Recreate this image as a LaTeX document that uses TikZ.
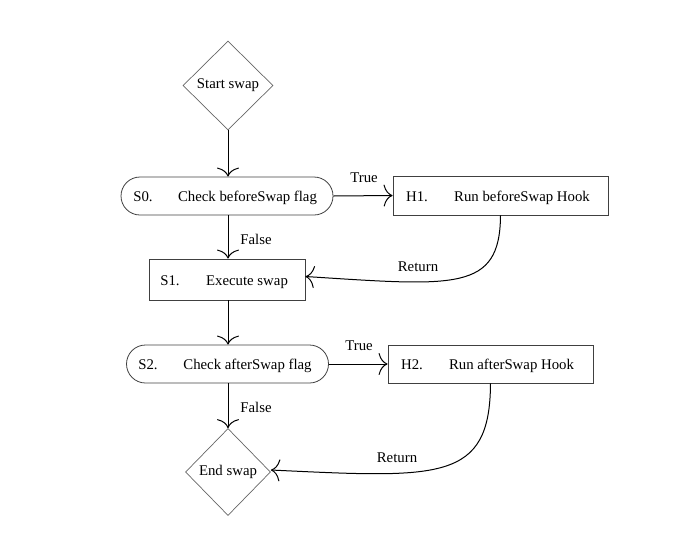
\documentclass[tikz,border=0pt]{standalone}
\usepackage{fontspec}
\setmainfont{Liberation Serif}
\usetikzlibrary{arrows.meta,shapes.geometric}
\begin{document}
\begin{tikzpicture}[x=1pt,y=-1pt,
  every node/.style={font=\fontsize{14.8}{16}\selectfont},
  box/.style={draw=black!75,line width=0.8pt,inner sep=0pt},
  stadium/.style={box,rounded corners=19pt},
  dia/.style={draw=black!60,line width=0.7pt,diamond,aspect=1,inner sep=0pt},
  txt/.style={inner sep=0pt,anchor=base},
  conn/.style={line width=1pt,-{To[length=9pt,width=22pt]}},
  lbl/.style={inner sep=0pt}]
\useasboundingbox (0,0) rectangle (700,544);
% shapes
\node[dia,minimum width=90pt,minimum height=89pt] (start) at (228,85.5) {};
\node (startt) at (228,85.5) {Start swap};
\node[stadium,minimum width=212pt,minimum height=38pt] (s0) at (227,196) {};
\node[txt] (s0n) at (143,201) {S0.};
\node[txt] (s0t) at (247.5,201) {Check beforeSwap flag};
\node[box,minimum width=215pt,minimum height=39pt] (h1) at (500.5,195.5) {};
\node[txt] (h1n) at (417,201) {H1.};
\node[txt] (h1t) at (522,201) {Run beforeSwap Hook};
\node[box,minimum width=156pt,minimum height=41pt] (s1) at (227,279.5) {};
\node[txt] (s1n) at (170,285) {S1.};
\node[txt] (s1t) at (247,285) {Execute swap};
\node[stadium,minimum width=202pt,minimum height=38pt] (s2) at (227.5,364) {};
\node[txt] (s2n) at (148,369) {S2.};
\node[txt] (s2t) at (247.5,369) {Check afterSwap flag};
\node[box,minimum width=205pt,minimum height=38pt] (h2) at (490.5,364) {};
\node[txt] (h2n) at (412,369) {H2.};
\node[txt] (h2t) at (511.5,369) {Run afterSwap Hook};
\node[dia,minimum width=85pt,minimum height=87pt] (end) at (228,472) {};
\node (endt) at (228,472) {End swap};
% connectors
\draw[conn] (start.south) -- (s0.north -| start.south);
\draw[conn] (s0.east) -- (h1.west);
\draw[conn] (s0.south -| start.south) -- (s1.north -| start.south);
\draw[conn] (h1.south) .. controls (500,292) and (455,286) .. ([yshift=3pt]s1.east);
\draw[conn] (s1.south -| start.south) -- (s2.north -| start.south);
\draw[conn] (s2.east) -- (h2.west);
\draw[conn] (s2.south -| start.south) -- (end.north);
\draw[conn] (h2.south) .. controls (490,482) and (440,478) .. ([yshift=2pt]end.east);
% labels
\node[lbl] (t1) at (364,178) {True};
\node[lbl] (f1) at (256,239) {False};
\node[lbl] (r1) at (418,267) {Return};
\node[lbl] (t2) at (359,346) {True};
\node[lbl] (f2) at (256,407) {False};
\node[lbl] (r2) at (397,458) {Return};
\end{tikzpicture}
\end{document}
